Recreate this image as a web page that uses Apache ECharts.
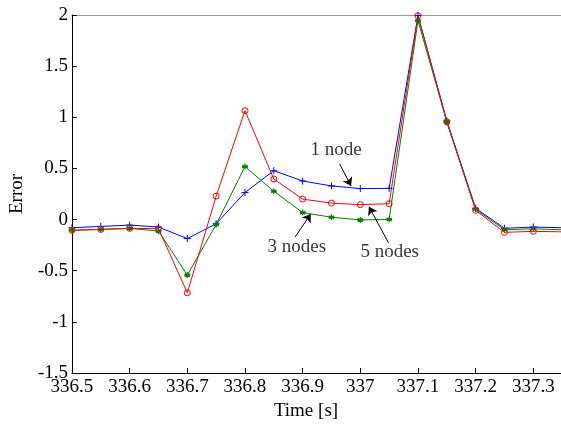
<!DOCTYPE html>
<html>
<head>
<meta charset="utf-8">
<script src="https://cdn.jsdelivr.net/npm/echarts@6/dist/echarts.min.js"></script>
<style>
  html, body { margin: 0; padding: 0; background: #fff; }
  #chart3 { width: 561px; height: 426px; }
</style>
</head>
<body>
<div id="chart3"></div>
<script>
// sample times [s]
var times = [336.5, 336.55, 336.6, 336.65, 336.7, 336.75, 336.8, 336.85, 336.9,
             336.95, 337, 337.05, 337.1, 337.15, 337.2, 337.25, 337.3, 337.35];

// error for each configuration
var oneNode = [-0.08, -0.067, -0.054, -0.073, -0.186, -0.041, 0.264, 0.478, 0.377,
               0.329, 0.303, 0.305, 1.995, 0.965, 0.11, -0.085, -0.073, -0.08];
var threeNodes = [-0.105, -0.096, -0.086, -0.112, -0.543, -0.048, 0.518, 0.277, 0.068,
                  0.023, -0.003, 0.001, 1.945, 0.955, 0.1, -0.1, -0.09, -0.1];
var fiveNodes = [-0.105, -0.096, -0.086, -0.089, -0.716, 0.229, 1.065, 0.396, 0.2,
                 0.161, 0.146, 0.155, 1.993, 0.955, 0.09, -0.125, -0.115, -0.12];

var xTicks = [336.5, 336.6, 336.7, 336.8, 336.9, 337, 337.1, 337.2, 337.3];
var yTicks = [-1.5, -1, -0.5, 0, 0.5, 1, 1.5, 2];

// annotations (data coordinates)
var noteLabels = ['1 node', '3 nodes', '5 nodes'];
var noteAt = [[336.958, 0.679], [336.890, -0.266], [337.051, -0.314]];
var arrowFrom = [[336.964, 0.545], [336.887, -0.170], [337.049, -0.228]];
var arrowTo = [[336.984, 0.329], [336.914, 0.055], [337.015, 0.126]];

var FONT = 'Liberation Serif';
var X_MAX = 337.348;

function pairs(ys) {
    return times.map(function (t, i) { return [t, ys[i]]; });
}

var plusPath = 'path://M0,5L10,5M5,0L5,10';
var starPath = 'path://M5,0L5,10M0.7,2.5L9.3,7.5M0.7,7.5L9.3,2.5M0,5L10,5';

var chart = echarts.init(document.getElementById('chart3'));

var option = {
    animation: false,
    backgroundColor: '#fff',
    grid: { left: 66.7, right: 0, top: 15, bottom: 48.7 },
    xAxis: [{
        type: 'value',
        min: xTicks[0],
        max: X_MAX,
        interval: 0.1,
        name: 'Time [s]',
        nameLocation: 'middle',
        nameGap: 29,
        nameTextStyle: { fontFamily: FONT, fontSize: 19, color: '#000', padding: [0, 21, 0, 0] },
        axisLine: { onZero: false, lineStyle: { color: '#000', width: 1 } },
        axisTick: { inside: true, length: 5, lineStyle: { color: '#000' } },
        axisLabel: {
            fontFamily: FONT, fontSize: 19, color: '#000', margin: 5,
            showMaxLabel: false,
            formatter: function (v) { return String(Math.round(v * 10) / 10); }
        },
        splitLine: { show: false }
    }, {
        type: 'value',
        position: 'top',
        min: xTicks[0],
        max: X_MAX,
        interval: 0.1,
        axisLine: { onZero: false, lineStyle: { color: '#999', width: 1 } },
        axisTick: { show: false },
        axisLabel: { show: false },
        splitLine: { show: false }
    }],
    yAxis: {
        type: 'value',
        min: yTicks[0],
        max: yTicks[yTicks.length - 1],
        interval: 0.5,
        name: 'Error',
        nameLocation: 'middle',
        nameGap: 38,
        nameTextStyle: { fontFamily: FONT, fontSize: 19, color: '#000' },
        axisLine: { onZero: false, lineStyle: { color: '#000', width: 1 } },
        axisTick: { inside: true, length: 5, lineStyle: { color: '#000' } },
        axisLabel: { fontFamily: FONT, fontSize: 19, color: '#000', margin: 4 },
        splitLine: { show: false }
    },
    series: [{
        name: '1 node',
        type: 'line',
        data: pairs(oneNode),
        symbol: plusPath,
        symbolSize: 7,
        showAllSymbol: true,
        lineStyle: { color: '#0000ff', width: 1 },
        itemStyle: { color: '#0000ff', borderColor: '#0000ff', borderWidth: 1 }
    }, {
        name: '3 nodes',
        type: 'line',
        data: pairs(threeNodes),
        symbol: starPath,
        symbolSize: 6,
        showAllSymbol: true,
        lineStyle: { color: '#008000', width: 1 },
        itemStyle: { color: '#008000', borderColor: '#008000', borderWidth: 1.2 }
    }, {
        name: '5 nodes',
        type: 'line',
        data: pairs(fiveNodes),
        symbol: 'circle',
        symbolSize: 6,
        showAllSymbol: true,
        lineStyle: { color: '#ff0000', width: 1 },
        itemStyle: { color: 'rgba(255,255,255,0)', borderColor: '#ff0000', borderWidth: 1 },
        markLine: {
            silent: true,
            symbol: ['none', 'arrow'],
            symbolSize: 8,
            label: { show: false },
            lineStyle: { color: '#000', width: 1, type: 'solid' },
            data: arrowFrom.map(function (p, i) {
                return [{ coord: p }, { coord: arrowTo[i] }];
            })
        }
    }, {
        name: 'notes',
        type: 'scatter',
        silent: true,
        symbolSize: 0,
        data: noteAt.map(function (p, i) { return { name: noteLabels[i], value: p }; }),
        label: {
            show: true,
            position: 'inside',
            formatter: '{b}',
            fontFamily: FONT,
            fontSize: 19,
            color: '#000'
        }
    }]
};

chart.setOption(option);
</script>
</body>
</html>
